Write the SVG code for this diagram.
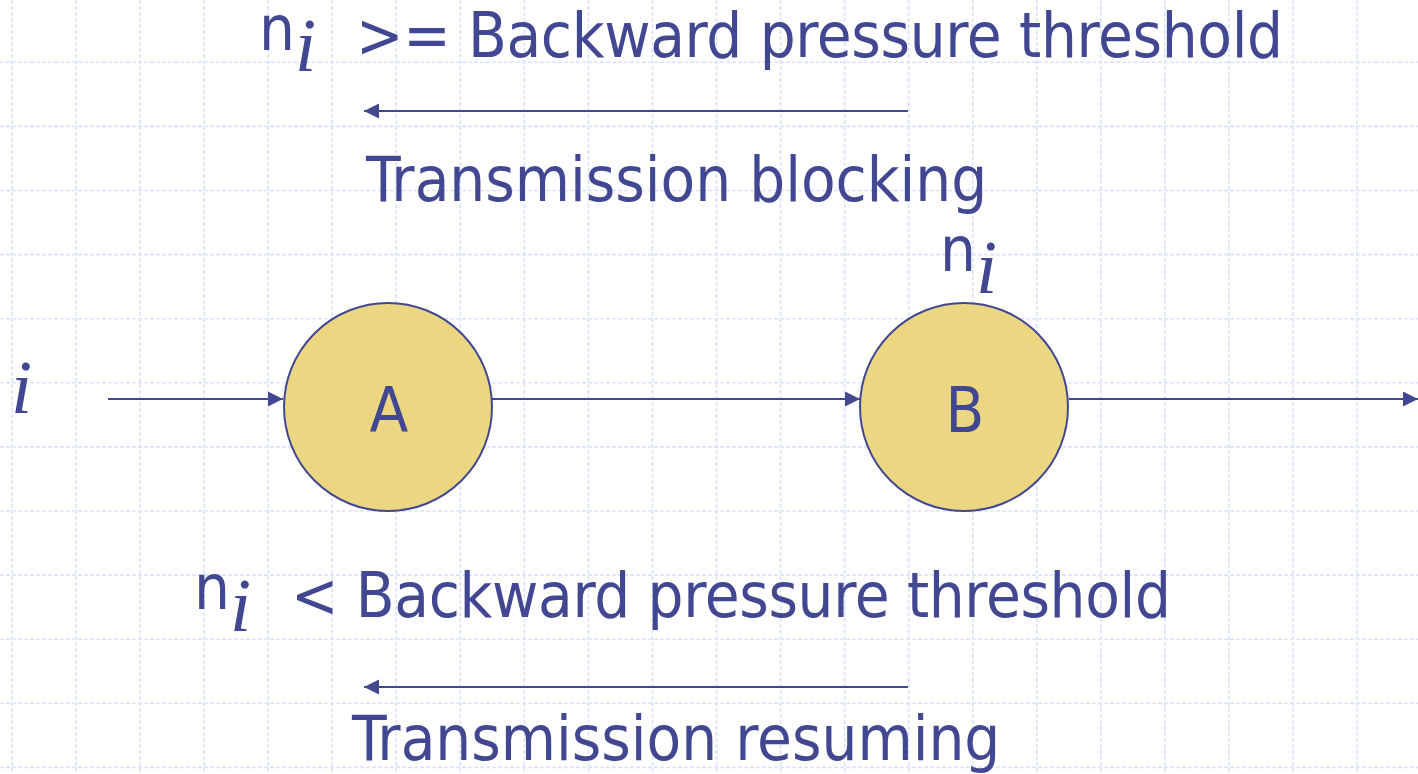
<svg xmlns="http://www.w3.org/2000/svg" width="1418" height="774" viewBox="0 0 1418 774">
<defs>
<style>
.grid{stroke:#dbe3fc;stroke-width:1.6;stroke-dasharray:4 2;fill:none}
.t{font-family:"DejaVu Sans Condensed","Liberation Sans",sans-serif;font-stretch:condensed;font-size:63px;fill:#414891}
.tight{letter-spacing:-0.35px}
.it{font-family:"Liberation Serif","Times New Roman",serif;font-style:italic;font-size:76px;fill:#414891}
.node circle{fill:#ebd682;stroke:#414891;stroke-width:2}
.edge{stroke:#414891;stroke-width:2;fill:none;marker-end:url(#arr)}
</style>
<marker id="arr" markerUnits="userSpaceOnUse" markerWidth="16" markerHeight="16" refX="15" refY="7.5" orient="auto">
<path d="M0,0 L15,7.5 L0,15 Z" fill="#414891"/>
</marker>
</defs>
<rect width="1418" height="774" fill="#ffffff"/>
<g id="grid" class="grid">
<path d="M12,0V774 M76.05,0V774 M140.1,0V774 M204.15,0V774 M268.2,0V774 M332.25,0V774 M396.3,0V774 M460.35,0V774 M524.4,0V774 M588.45,0V774 M652.5,0V774 M716.55,0V774 M780.6,0V774 M844.65,0V774 M908.7,0V774 M972.75,0V774 M1036.8,0V774 M1100.85,0V774 M1164.9,0V774 M1228.95,0V774 M1293,0V774 M1357.05,0V774"/>
<path d="M0,62.3H1418 M0,126.4H1418 M0,190.5H1418 M0,254.6H1418 M0,318.7H1418 M0,382.8H1418 M0,446.9H1418 M0,511H1418 M0,575.1H1418 M0,639.2H1418 M0,703.3H1418 M0,767.4H1418"/>
</g>
<g id="connectors">
<line class="edge" x1="108" y1="399" x2="283" y2="399"/>
<line class="edge" x1="492" y1="399" x2="860" y2="399"/>
<line class="edge" x1="1069" y1="399" x2="1418" y2="399"/>
<line class="edge" x1="908" y1="111" x2="364" y2="111"/>
<line class="edge" x1="908" y1="687" x2="364" y2="687"/>
</g>
<g id="nodeA" class="node">
<circle cx="388" cy="407" r="104"/>
<text class="t" x="389" y="432" text-anchor="middle">A</text>
</g>
<g id="nodeB" class="node">
<circle cx="964" cy="407" r="104"/>
<text class="t" x="965" y="432" text-anchor="middle">B</text>
</g>
<g id="labels">
<text class="t" x="259" y="50">n<tspan class="it" dx="0" dy="21">i</tspan></text>
<text class="t tight" x="356" y="57">&gt;= Backward pressure threshold</text>
<text class="t" x="366" y="201">Transmission blocking</text>
<text class="t" x="940" y="271">n<tspan class="it" dx="0" dy="22">i</tspan></text>
<text class="it" x="11" y="413">i</text>
<text class="t" x="194" y="609">n<tspan class="it" dx="0" dy="22">i</tspan></text>
<text class="t tight" x="291" y="617">&lt; Backward pressure threshold</text>
<text class="t" x="352" y="760">Transmission resuming</text>
</g>
</svg>
